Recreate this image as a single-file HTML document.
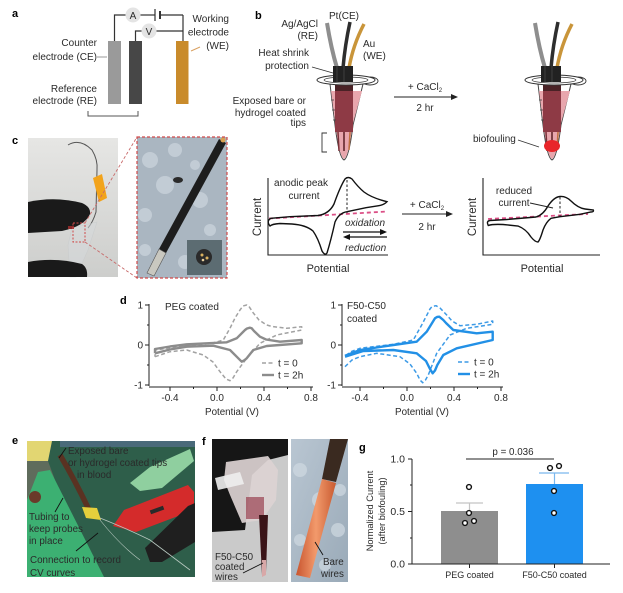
<!DOCTYPE html>
<html><head><meta charset="utf-8"><style>
html,body{margin:0;padding:0;background:#fff;}
svg{display:block;}
text{font-family:"Liberation Sans",Arial,sans-serif;fill:#2a2a2a;}
.lb{font-weight:bold;font-size:11px;fill:#000;}
.t10{font-size:10px;}
.t9{font-size:9.5px;}
</style></head><body>
<svg width="623" height="593" viewBox="0 0 623 593" xmlns="http://www.w3.org/2000/svg">
<defs>
<linearGradient id="gc1" x1="0" y1="0" x2="0" y2="1"><stop offset="0" stop-color="#e6e6e4"/><stop offset="1" stop-color="#cdcecc"/></linearGradient>
<linearGradient id="gf2" x1="0" y1="0" x2="1" y2="1"><stop offset="0" stop-color="#b9c6d2"/><stop offset="1" stop-color="#9aaab8"/></linearGradient>
<linearGradient id="gcu" x1="0" y1="0" x2="1" y2="0"><stop offset="0" stop-color="#c9552f"/><stop offset="0.5" stop-color="#f29a6c"/><stop offset="1" stop-color="#c85a30"/></linearGradient>
<g id="tube">
 <path d="M327 23 Q331 48 337 68" stroke="#8e8e8e" stroke-width="4" fill="none"/>
 <path d="M350 22 Q345 45 343 68" stroke="#2e2e2e" stroke-width="3.5" fill="none"/>
 <path d="M364 24 Q353 45 349 68" stroke="#c9953a" stroke-width="3.5" fill="none"/>
 <path d="M330 84 L335 125 Q339 158 344 160 Q349 158 353 125 L363 84 Z" fill="#fff" stroke="#444" stroke-width="1"/>
 <path d="M331 91 L335.5 125 Q339.5 157 344 159 Q348.5 157 352.5 125 L362 91 Z" fill="#e8a6ad"/>
 <rect x="335" y="84" width="18" height="48" fill="#8e3a45"/>
 <rect x="335" y="84" width="18" height="7" fill="#4a2226"/>
 <line x1="338" y1="132" x2="339" y2="151" stroke="#7a3038" stroke-width="1.5"/>
 <line x1="344" y1="132" x2="344" y2="151" stroke="#5a1f24" stroke-width="1.5"/>
 <line x1="350" y1="132" x2="349" y2="150" stroke="#c07040" stroke-width="1.5"/>
 <line x1="331" y1="100" x2="334" y2="100" stroke="#444" stroke-width="0.8"/>
 <line x1="332" y1="110" x2="335" y2="110" stroke="#444" stroke-width="0.8"/>
 <line x1="333" y1="120" x2="336" y2="120" stroke="#444" stroke-width="0.8"/>
 <ellipse cx="370" cy="81" rx="8" ry="4" fill="#fff" stroke="#333" stroke-width="0.9"/>
 <ellipse cx="346" cy="80" rx="29" ry="5" fill="#fff" stroke="#333" stroke-width="1"/>
 <ellipse cx="346" cy="80" rx="22" ry="3" fill="none" stroke="#333" stroke-width="0.7"/>
 <rect x="333" y="66" width="20" height="16" fill="#222"/>
 <line x1="337" y1="66" x2="337" y2="82" stroke="#555" stroke-width="0.6"/>
 <line x1="344" y1="66" x2="344" y2="82" stroke="#555" stroke-width="0.6"/>
</g>
</defs>

<!-- ============ Panel a ============ -->
<text class="lb" x="12" y="17">a</text>
<g stroke="#333" stroke-width="1.2" fill="none">
 <polyline points="114.5,41 114.5,15 125.5,15"/>
 <line x1="140.5" y1="15" x2="155" y2="15"/>
 <line x1="160" y1="15" x2="183" y2="15"/>
 <line x1="183" y1="15" x2="183" y2="41"/>
 <line x1="155" y1="9" x2="155" y2="21"/>
 <line x1="160" y1="11" x2="160" y2="19" stroke-width="2"/>
 <polyline points="135.5,41 135.5,31 141.5,31"/>
 <line x1="156.5" y1="31" x2="183" y2="31"/>
</g>
<circle cx="133" cy="15" r="7.5" fill="#e4e4e4"/>
<text x="133" y="19" class="t10" text-anchor="middle" fill="#333">A</text>
<circle cx="149" cy="31" r="7.5" fill="#e4e4e4"/>
<text x="149" y="35" class="t10" text-anchor="middle" fill="#333">V</text>
<rect x="108" y="41" width="13" height="63" fill="#9a9a9a"/>
<rect x="129" y="41" width="13" height="63" fill="#474747"/>
<rect x="176" y="41" width="12.5" height="63" fill="#c98b2b"/>
<polyline points="88,111 88,116 138,116 138,111" stroke="#555" stroke-width="1" fill="none"/>
<line x1="97" y1="57" x2="107" y2="57" stroke="#999" stroke-width="1"/>
<line x1="200" y1="47" x2="191" y2="51" stroke="#d9a060" stroke-width="1"/>
<text class="t10" text-anchor="end" x="97" y="46">Counter</text>
<text class="t10" text-anchor="end" x="97" y="60">electrode (CE)</text>
<text class="t10" text-anchor="end" x="229" y="22">Working</text>
<text class="t10" text-anchor="end" x="229" y="35.5">electrode</text>
<text class="t10" text-anchor="end" x="229" y="49">(WE)</text>
<text class="t10" text-anchor="end" x="97" y="92">Reference</text>
<text class="t10" text-anchor="end" x="97" y="104">electrode (RE)</text>

<!-- ============ Panel b ============ -->
<text class="lb" x="255" y="19">b</text>
<use href="#tube"/>
<use href="#tube" transform="translate(208,0)"/>
<ellipse cx="552" cy="146" rx="8" ry="6" fill="#e8262a"/>
<text class="t10" text-anchor="end" x="318" y="27">Ag/AgCl</text>
<text class="t10" text-anchor="end" x="318" y="39">(RE)</text>
<text class="t10" x="329" y="19">Pt(CE)</text>
<text class="t10" x="363" y="47">Au</text>
<text class="t10" x="363" y="59">(WE)</text>
<text class="t10" text-anchor="end" x="309" y="56">Heat shrink</text>
<text class="t10" text-anchor="end" x="309" y="69">protection</text>
<line x1="312" y1="67" x2="333" y2="73" stroke="#333" stroke-width="0.9"/>
<text class="t10" text-anchor="end" x="306" y="104">Exposed bare or</text>
<text class="t10" text-anchor="end" x="306" y="116">hydrogel coated</text>
<text class="t10" text-anchor="end" x="306" y="126">tips</text>
<polyline points="327,133 322,133 322,152 327,152" stroke="#333" stroke-width="0.9" fill="none"/>
<line x1="394" y1="97" x2="453" y2="97" stroke="#222" stroke-width="1"/>
<path d="M458 97 L451 94 L451 100 Z" fill="#222"/>
<text class="t10" text-anchor="middle" x="425" y="90">+ CaCl<tspan font-size="6" dy="2">2</tspan></text>
<text class="t10" text-anchor="middle" x="425" y="111">2 hr</text>
<text class="t10" x="473" y="142">biofouling</text>
<line x1="518" y1="140" x2="539" y2="147" stroke="#333" stroke-width="0.9"/>

<!-- CV schematic left -->
<polyline points="268,178 268,255 388,255" stroke="#222" stroke-width="1.1" fill="none"/>
<line x1="269" y1="218.5" x2="387" y2="211.5" stroke="#db4f86" stroke-width="1.8" stroke-dasharray="4,3"/>
<path d="M270 226 Q266 221 271 218.3 L290 216.7 L318 215.5 Q329 214 334 204 Q340 187 345 179 Q348 176 352 179 Q358 187 364 192 Q372 198 387 201.7 Q384 205 378 205.8 L366 207.7 L347 211.7 Q339 213 335 222 Q331 240 327 253 Q325 256 322 251 Q318 238 313 231 Q306 225 292 224 L280 223.5 Q272 224 270 226 Z" fill="none" stroke="#111" stroke-width="1.4"/>
<line x1="347" y1="180" x2="347" y2="213" stroke="#222" stroke-width="1" stroke-dasharray="2.5,2"/>
<line x1="343" y1="232" x2="382" y2="232" stroke="#111" stroke-width="1.2"/>
<path d="M387 232 L380 229 L380 235 Z" fill="#111"/>
<line x1="348" y1="237" x2="387" y2="237" stroke="#111" stroke-width="1.2"/>
<path d="M343 237 L350 234 L350 240 Z" fill="#111"/>
<text class="t10" text-anchor="middle" x="301" y="186">anodic peak</text>
<text class="t10" text-anchor="middle" x="304" y="199">current</text>
<text class="t10" x="345" y="226" font-style="italic">oxidation</text>
<text class="t10" x="345" y="251" font-style="italic">reduction</text>
<text font-size="11.5" text-anchor="middle" transform="translate(261,217) rotate(-90)">Current</text>
<text font-size="11" text-anchor="middle" x="328" y="272">Potential</text>
<line x1="402" y1="214" x2="448" y2="214" stroke="#222" stroke-width="1"/>
<path d="M453 214 L446 211 L446 217 Z" fill="#222"/>
<text class="t10" text-anchor="middle" x="427" y="208">+ CaCl<tspan font-size="6" dy="2">2</tspan></text>
<text class="t10" text-anchor="middle" x="427" y="230">2 hr</text>
<!-- CV schematic right -->
<polyline points="483,178 483,255 600,255" stroke="#222" stroke-width="1.1" fill="none"/>
<line x1="488" y1="219" x2="588" y2="214" stroke="#db4f86" stroke-width="1.8" stroke-dasharray="4,3"/>
<path d="M488.3 225.5 Q486 221 490 220.5 L506.7 219.5 L536 217 Q543 215 548 206 Q554 197 560 196.5 Q566 196 571 201 Q578 208 585 209 L593.3 210 Q594 212 591 212 L580 214.3 L560 216.7 L551 218.3 Q546 222 543 230 Q540 240 538 242 Q535 242 531 237 Q526 229 518 226 L503 224.5 Q492 224 488.3 225.5 Z" fill="none" stroke="#111" stroke-width="1.4"/>
<line x1="560" y1="197" x2="560" y2="216" stroke="#222" stroke-width="1" stroke-dasharray="2.5,2"/>
<text class="t10" text-anchor="middle" x="514" y="194">reduced</text>
<text class="t10" text-anchor="middle" x="514" y="206">current</text>
<line x1="530" y1="203" x2="553" y2="208" stroke="#222" stroke-width="0.9"/>
<text font-size="11.5" text-anchor="middle" transform="translate(476,217) rotate(-90)">Current</text>
<text font-size="11" text-anchor="middle" x="542" y="272">Potential</text>

<!-- ============ Panel c ============ -->
<text class="lb" x="12" y="144">c</text>
<rect x="28" y="138" width="90" height="139" fill="url(#gc1)"/>
<path d="M68 145 Q80 138 92 150 Q98 160 97 170 L96 212 Q93 222 88 228" stroke="#555" stroke-width="1" fill="none"/>
<path d="M72 228 L97 222 L88 250 L76 277 L70 277 L68 245 Z" fill="#d6dadc" opacity="0.55" stroke="#c4c8ca" stroke-width="0.6"/>
<path d="M28 202 Q55 196 82 203 Q91 207 90 214 Q85 226 62 231 L28 233 Z" fill="#1a1a1a"/>
<rect x="68" y="226" width="6" height="3" fill="#8a2a2a"/>
<path d="M28 262 Q55 257 82 264 Q88 268 87 277 L28 277 Z" fill="#1a1a1a"/>
<polygon points="93,178 102,174 107,198 99,202" fill="#f2a31b"/>
<rect x="73" y="223" width="12" height="19" fill="none" stroke="#d04a4a" stroke-width="1" stroke-dasharray="2,1.5"/>
<line x1="85" y1="223" x2="137" y2="137" stroke="#c86a6a" stroke-width="0.9" stroke-dasharray="3,2"/>
<line x1="85" y1="242" x2="137" y2="278" stroke="#c86a6a" stroke-width="0.9" stroke-dasharray="3,2"/>
<rect x="137" y="137" width="90" height="141" fill="#aab6c1"/>
<g fill="#c9d2db" opacity="0.8">
 <circle cx="150" cy="160" r="8"/><circle cx="175" cy="150" r="7"/><circle cx="165" cy="185" r="9"/>
 <circle cx="145" cy="215" r="7"/><circle cx="200" cy="200" r="8"/><circle cx="210" cy="230" r="6"/>
 <circle cx="185" cy="262" r="7"/><circle cx="145" cy="250" r="6"/><circle cx="195" cy="165" r="5"/>
</g>
<ellipse cx="178" cy="180" rx="5" ry="3" fill="#2a2a2a"/>
<polygon points="219,139 226,143 166,253 159,249" fill="#1d1d1d"/>
<polygon points="159,249 166,253 154,276 147,273" fill="#c9c8c0" stroke="#555" stroke-width="0.6"/>
<circle cx="223" cy="140" r="2.5" fill="#d9a050"/>
<rect x="187" y="240" width="35" height="35" fill="#5c6c72"/>
<circle cx="204" cy="257" r="8" fill="#2a2a2a"/>
<circle cx="202" cy="255" r="1.5" fill="#d8b060"/><circle cx="207" cy="258" r="1.5" fill="#d8b060"/><circle cx="203" cy="260" r="1.3" fill="#e8d0a0"/>
<rect x="137" y="137" width="90" height="141" fill="none" stroke="#d04a4a" stroke-width="1.2" stroke-dasharray="3,2"/>

<!-- ============ Panel d ============ -->
<text class="lb" x="120" y="304">d</text>
<g stroke="#222" stroke-width="1" fill="none">
 <line x1="149" y1="304" x2="149" y2="386"/>
 <line x1="149" y1="387" x2="313" y2="387"/>
 <line x1="145" y1="305" x2="149" y2="305"/><line x1="145" y1="345" x2="149" y2="345"/><line x1="145" y1="385" x2="149" y2="385"/>
 <line x1="147" y1="325" x2="149" y2="325"/><line x1="147" y1="365" x2="149" y2="365"/>
 <line x1="170" y1="387" x2="170" y2="391"/><line x1="217" y1="387" x2="217" y2="391"/><line x1="264" y1="387" x2="264" y2="391"/><line x1="311" y1="387" x2="311" y2="391"/>
 <line x1="193.5" y1="387" x2="193.5" y2="389"/><line x1="240.5" y1="387" x2="240.5" y2="389"/><line x1="287.5" y1="387" x2="287.5" y2="389"/>
</g>
<text x="143" y="308.5" text-anchor="end" font-size="10">1</text>
<text x="143" y="348.5" text-anchor="end" font-size="10">0</text>
<text x="143" y="388.5" text-anchor="end" font-size="10">-1</text>
<text x="170" y="401" text-anchor="middle" font-size="10">-0.4</text>
<text x="217" y="401" text-anchor="middle" font-size="10">0.0</text>
<text x="264" y="401" text-anchor="middle" font-size="10">0.4</text>
<text x="311" y="401" text-anchor="middle" font-size="10">0.8</text>
<text x="232" y="415" text-anchor="middle" font-size="9.8">Potential (V)</text>
<text x="165" y="310" font-size="10">PEG coated</text>
<polyline fill="none" stroke="#a2a2a2" stroke-width="1.5" stroke-dasharray="4,2.5" stroke-linejoin="round"
 points="155,356.7 170,351.7 186.7,350 203.3,355 213,362 220,371.7 226,379 230,380.7 233,378 236.7,371.7 246.7,358.3 260,343.3 276.7,335 301.7,330 301.7,326.7 286.7,328.3 272,326.5 266.7,325 259,320 253.3,313 249,306.5 246.7,305 243,306 240,310 235,318 230,328.3 223.3,340 213,343 203.3,344.3 186.7,346 170,348 155,350 155,356.7"/>
<polyline fill="none" stroke="#8c8c8c" stroke-width="2.4" stroke-linejoin="round"
 points="155,353.3 170,349.5 186.7,346.7 213.3,345.7 230,350 236.7,356.7 241.7,361.7 244,360.5 246.7,358.3 253.3,350 266.7,346 301.7,343.3 301.7,340 280,341.7 266,339.5 260,336.7 254,331 251.7,328.3 250,327.7 247,328.5 245,330 236.7,338.3 226.7,342.3 186.7,344.3 170,346.5 155,349 155,353.3"/>
<line x1="262" y1="363" x2="274" y2="363" stroke="#a2a2a2" stroke-width="1.5" stroke-dasharray="4,2.5"/>
<line x1="262" y1="375" x2="274" y2="375" stroke="#8c8c8c" stroke-width="2.4"/>
<text x="278" y="366.5" font-size="10">t = 0</text>
<text x="278" y="378.5" font-size="10">t = 2h</text>

<g stroke="#222" stroke-width="1" fill="none">
 <line x1="342" y1="304" x2="342" y2="386"/>
 <line x1="342" y1="387" x2="503" y2="387"/>
 <line x1="338" y1="305" x2="342" y2="305"/><line x1="338" y1="345" x2="342" y2="345"/><line x1="338" y1="385" x2="342" y2="385"/>
 <line x1="340" y1="325" x2="342" y2="325"/><line x1="340" y1="365" x2="342" y2="365"/>
 <line x1="360" y1="387" x2="360" y2="391"/><line x1="407" y1="387" x2="407" y2="391"/><line x1="454" y1="387" x2="454" y2="391"/><line x1="501" y1="387" x2="501" y2="391"/>
 <line x1="383.5" y1="387" x2="383.5" y2="389"/><line x1="430.5" y1="387" x2="430.5" y2="389"/><line x1="477.5" y1="387" x2="477.5" y2="389"/>
</g>
<text x="336" y="308.5" text-anchor="end" font-size="10">1</text>
<text x="336" y="348.5" text-anchor="end" font-size="10">0</text>
<text x="336" y="388.5" text-anchor="end" font-size="10">-1</text>
<text x="360" y="401" text-anchor="middle" font-size="10">-0.4</text>
<text x="407" y="401" text-anchor="middle" font-size="10">0.0</text>
<text x="454" y="401" text-anchor="middle" font-size="10">0.4</text>
<text x="501" y="401" text-anchor="middle" font-size="10">0.8</text>
<text x="422" y="415" text-anchor="middle" font-size="9.8">Potential (V)</text>
<text x="347" y="309" font-size="10">F50-C50</text>
<text x="347" y="322" font-size="10">coated</text>
<polyline fill="none" stroke="#3c9ae6" stroke-width="1.5" stroke-dasharray="4,2.5" stroke-linejoin="round"
 points="345,366.7 352,360 360,356.7 376.7,353.3 400,356.7 410,364 416.7,373.3 420,380 422.7,382.7 425.5,380 428.3,375 436.7,353.3 450,335 466.7,328.3 492.7,324.3 492.7,321 476.7,324.3 460,325.7 452,321 446.7,315 440,308 436,305.7 432,306.5 430,309 421.7,325 413.3,340 393.3,344.3 360,348.3 350,352 345,356.7"/>
<polyline fill="none" stroke="#2290e6" stroke-width="2.4" stroke-linejoin="round"
 points="345,356.7 363.3,351 393.3,350 416.7,353.3 426,361 430,369 432.7,373.3 435,370.5 437.3,365 443.3,355 456.7,348.3 492.7,340 492.7,331.7 476.7,333.3 453.3,330 446,323 443.3,320 439.3,316.7 437,317 435,318.3 426.7,331.7 416.7,341.7 393.3,345 360,350 345,355.7"/>
<line x1="458" y1="362" x2="470" y2="362" stroke="#3c9ae6" stroke-width="1.5" stroke-dasharray="4,2.5"/>
<line x1="458" y1="374" x2="470" y2="374" stroke="#2290e6" stroke-width="2.4"/>
<text x="474" y="365.5" font-size="10">t = 0</text>
<text x="474" y="377.5" font-size="10">t = 2h</text>

<!-- ============ Panel e ============ -->
<text class="lb" x="12" y="444">e</text>
<rect x="27" y="441" width="168" height="136" fill="#2e5e4a"/>
<rect x="60" y="441" width="135" height="6" fill="#4a6a7a"/>
<polygon points="27,441 52,441 48,461 27,461" fill="#e2d672"/>
<polygon points="27,461 48,461 55,480 40,500 27,500" fill="#5f6c5c"/>
<polygon points="27,500 38,472 50,470 104,577 27,577" fill="#3cb072"/>
<polygon points="130,483 150,467 190,449 194,461 162,488 140,491" fill="#8fcf9f"/>
<polygon points="113,526 124,510 188,485 194,492 194,510 136,532" fill="#d42b2b"/>
<rect x="150" y="508" width="14" height="4" fill="#2a2a2a" transform="rotate(-20 157 510)"/>
<polygon points="145,548 188,506 195,503 195,542 162,562 150,562" fill="#1f1f1f"/>
<path d="M60 455 Q76 482 90 512" stroke="#5a3222" stroke-width="5.5" fill="none"/>
<polygon points="82,507 97,508 101,520 86,518" fill="#e4cf3c"/>
<circle cx="35" cy="497" r="6" fill="#6a3a2a"/>
<path d="M100 518 Q130 530 150 540 Q170 555 190 570" stroke="#b8c8c0" stroke-width="0.8" fill="none"/>
<path d="M100 520 Q120 545 140 560" stroke="#b8c8c0" stroke-width="0.6" fill="none"/>
<line x1="66" y1="448" x2="59" y2="458" stroke="#111" stroke-width="0.9"/>
<line x1="63" y1="498" x2="55" y2="512" stroke="#111" stroke-width="0.9"/>
<line x1="98" y1="533" x2="76" y2="551" stroke="#111" stroke-width="0.9"/>
<g font-size="9.8">
<text x="68" y="454" fill="#111">Exposed bare</text>
<text x="68" y="466" fill="#111">or hydrogel coated tips</text>
<text x="77" y="478" fill="#111">in blood</text>
<text x="29" y="520" fill="#111">Tubing to</text>
<text x="29" y="532" fill="#111">keep probes</text>
<text x="29" y="544" fill="#111">in place</text>
<text x="30" y="563" fill="#111">Connection to record</text>
<text x="30" y="576" fill="#111">CV curves</text>
</g>

<!-- ============ Panel f ============ -->
<text class="lb" x="202" y="445">f</text>
<rect x="212" y="439" width="76" height="143" fill="#cacaca"/>
<polygon points="212,439 288,439 288,455 268,460 252,475 245,530 212,532" fill="#161616"/>
<polygon points="226,462 268,456 278,470 276,500 262,520 242,523 230,495 224,480" fill="#dcd3d3" opacity="0.92"/>
<polygon points="215,478 240,472 244,484 218,490" fill="#eeeeee" opacity="0.9"/>
<rect x="246" y="497" width="18" height="22" fill="#9a4050" opacity="0.7"/>
<polygon points="259,515 268,515 266,572 262,575" fill="#3a1418"/>
<polygon points="262,560 266,560 266,575 262,577" fill="#d8a8a8"/>
<line x1="243" y1="573" x2="263" y2="563" stroke="#111" stroke-width="0.9"/>
<g font-size="9.8">
<text x="215" y="560" fill="#111">F50-C50</text>
<text x="215" y="570" fill="#111">coated</text>
<text x="215" y="580" fill="#111">wires</text>
</g>
<rect x="291" y="439" width="57" height="143" fill="url(#gf2)"/>
<g fill="#d0dae2" opacity="0.7">
 <circle cx="300" cy="470" r="7"/><circle cx="320" cy="500" r="8"/><circle cx="338" cy="530" r="7"/>
 <circle cx="300" cy="540" r="6"/><circle cx="340" cy="490" r="6"/><circle cx="325" cy="565" r="6"/>
</g>
<polygon points="330,439 348,439 336,482 322,479" fill="#3a2a20"/>
<polygon points="322,479 336,483 310,578 296,575" fill="url(#gcu)"/>
<line x1="315" y1="542" x2="323" y2="555" stroke="#111" stroke-width="0.9"/>
<text x="323" y="565" font-size="9.8" fill="#111">Bare</text>
<text x="321" y="577" font-size="9.8" fill="#111">wires</text>

<!-- ============ Panel g ============ -->
<text class="lb" x="359" y="451">g</text>
<text font-size="9.3" text-anchor="middle" transform="translate(373,511) rotate(-90)">Normalized Current</text>
<text font-size="9.3" text-anchor="middle" transform="translate(385,511) rotate(-90)">(after biofouling)</text>
<rect x="441" y="511" width="57" height="53" fill="#8e8e8e"/>
<rect x="526" y="484" width="57" height="80" fill="#1e90f0"/>
<g stroke="#c4c4c4" stroke-width="1.2"><line x1="469.5" y1="511" x2="469.5" y2="503"/><line x1="456" y1="503" x2="483" y2="503"/></g>
<g stroke="#7ab8ee" stroke-width="1.2"><line x1="554.5" y1="484" x2="554.5" y2="473"/><line x1="539" y1="473" x2="569" y2="473"/></g>
<g stroke="#222" stroke-width="1" fill="none">
 <line x1="412" y1="459" x2="412" y2="564"/>
 <line x1="412" y1="564" x2="610" y2="564"/>
 <line x1="408" y1="459" x2="412" y2="459"/><line x1="408" y1="511.5" x2="412" y2="511.5"/><line x1="408" y1="564" x2="412" y2="564"/>
 <line x1="410" y1="485" x2="412" y2="485"/><line x1="410" y1="538" x2="412" y2="538"/>
 <line x1="469.5" y1="564" x2="469.5" y2="568"/><line x1="554.5" y1="564" x2="554.5" y2="568"/>
</g>
<g fill="#fff" stroke="#111" stroke-width="1.4">
 <circle cx="469" cy="487" r="2.4"/><circle cx="469" cy="513" r="2.4"/><circle cx="465" cy="523" r="2.4"/><circle cx="474" cy="521" r="2.4"/>
 <circle cx="550" cy="468" r="2.4"/><circle cx="559" cy="466" r="2.4"/><circle cx="554" cy="491" r="2.4"/><circle cx="554" cy="513" r="2.4"/>
</g>
<line x1="466" y1="459" x2="554" y2="459" stroke="#222" stroke-width="1.1"/>
<text x="513" y="455" text-anchor="middle" font-size="9.8">p = 0.036</text>
<text x="405" y="462.5" text-anchor="end" font-size="10.5">1.0</text>
<text x="405" y="515" text-anchor="end" font-size="10.5">0.5</text>
<text x="405" y="567.5" text-anchor="end" font-size="10.5">0.0</text>
<text x="469.5" y="578" text-anchor="middle" font-size="9">PEG coated</text>
<text x="554.5" y="578" text-anchor="middle" font-size="9">F50-C50 coated</text>
</svg>
</body></html>
